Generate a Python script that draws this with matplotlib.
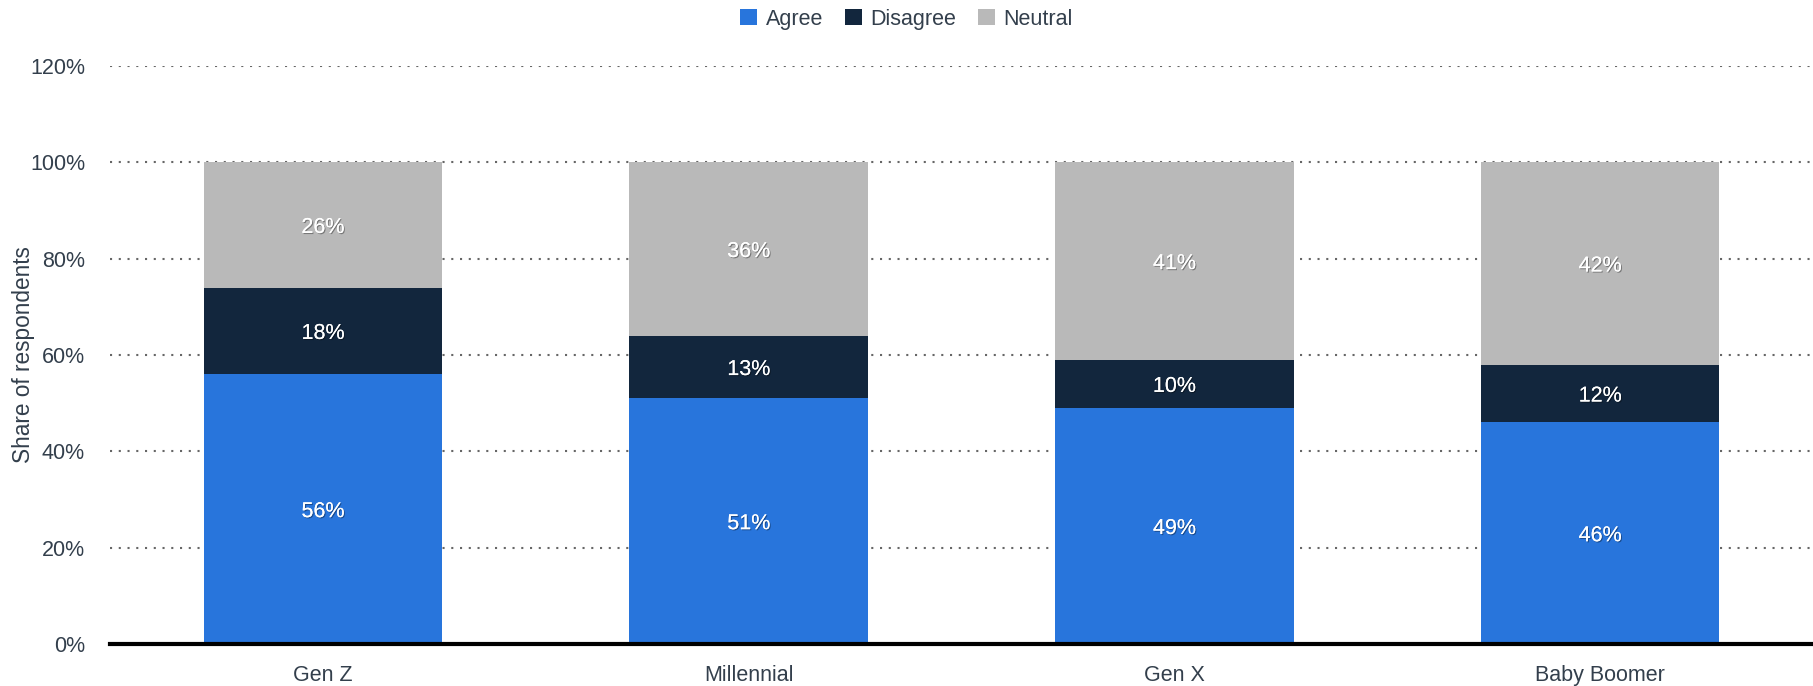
"""
Stacked share-of-respondents chart by generation
"""
import matplotlib.pyplot as plt
import matplotlib.patheffects as pe
import numpy as np

# DATA
#####################
generations = ['Gen Z', 'Millennial', 'Gen X', 'Baby Boomer']
agree = [56, 51, 49, 46]
disagree = [18, 13, 10, 12]
neutral = [26, 36, 41, 42]

series = [('Agree', agree, '#2875dc'),
          ('Disagree', disagree, '#12263d'),
          ('Neutral', neutral, '#b9b9b9')]

plt.rcParams.update({'font.family': ['Liberation Sans', 'DejaVu Sans']})
text_col = '#333f4c'

fig = plt.figure(figsize=(18.13, 6.86), dpi=100)
ax = fig.add_axes([0.0607, 0.0612, 0.9393, 0.8426])

x = np.arange(len(generations))
bottom = np.zeros(len(generations))
shadow = [pe.withSimplePatchShadow(offset=(0.8, -0.8), shadow_rgbFace='black', alpha=0.35), pe.Normal()]

for name, vals, col in series:
    vals = np.array(vals, dtype=float)
    ax.bar(x, vals, 0.56, bottom=bottom, color=col, label=name, zorder=2)
    for xi, b, v in zip(x, bottom, vals):
        ax.text(xi, b + v / 2, f'{v:.0f}%', ha='center', va='center_baseline',
                color='white', fontsize=15.5, zorder=3, path_effects=shadow)
    bottom += vals

ax.set_xlim(-0.5, 3.5)
ax.set_ylim(0, 120)
ax.set_yticks(range(0, 121, 20))
ax.set_yticklabels([f'{t}%' for t in range(0, 121, 20)])
ax.set_xticks(x)
ax.set_xticklabels(generations)
ax.tick_params(axis='both', length=0, labelsize=15.5, colors=text_col)
ax.tick_params(axis='x', pad=15)
ax.tick_params(axis='y', pad=18)

# dotted gridlines, skipping 0 where the baseline sits
for t in range(20, 121, 20):
    ax.axhline(t, color='#666666', linestyle=(0, (1, 3.2)), linewidth=1.5, zorder=1)

for s in ['top', 'right', 'left']:
    ax.spines[s].set_visible(False)
ax.spines['bottom'].set_linewidth(3)
ax.spines['bottom'].set_color('black')
ax.spines['bottom'].set_zorder(4)

ax.set_ylabel('Share of respondents', fontsize=16.3, color=text_col)
ax.yaxis.set_label_coords(-0.044, 0.5)

fig.legend(loc='center', bbox_to_anchor=(0.5, 0.972), ncol=3, frameon=False,
           fontsize=15.5, handlelength=0.8, handleheight=0.8, handletextpad=0.4,
           columnspacing=1.0, labelcolor=text_col)

fig.savefig('out.png', dpi=100)
